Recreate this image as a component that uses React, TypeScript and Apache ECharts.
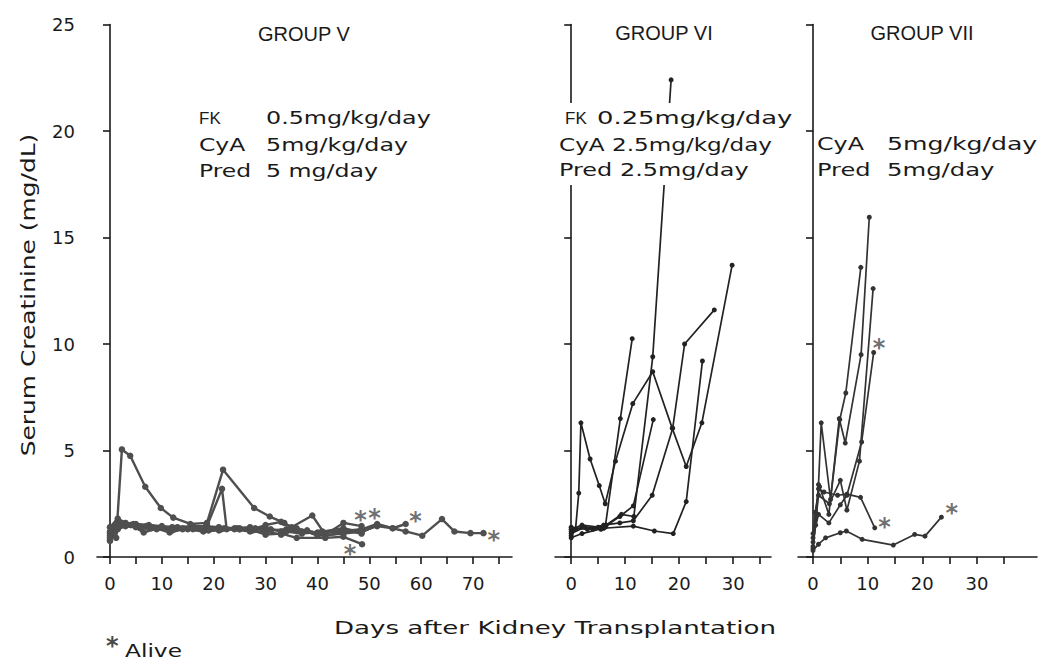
import { useEffect, useRef } from "react";
import * as echarts from "echarts";

// ---------- axis ticks ----------
const yRange = [0, 25];
const g5TickValues = [0, 5, 10, 15, 20, 25, 30, 35, 40, 45, 50, 55, 60, 65, 70, 75];
const g5LabelValues = [0, 10, 20, 30, 40, 50, 60, 70];
const g6TickValues = [0, 5, 10, 15, 20, 25, 30, 35];
const g6LabelValues = [0, 10, 20, 30];
const g7TickValues = [0, 5, 10, 15, 20, 25, 30, 35];
const g7LabelValues = [0, 10, 20, 30];

// ---------- GROUP V (day, serum creatinine) ----------
const g5p1 = [[0, 1.1], [1.2, 0.9], [2.3, 5.05], [3.9, 4.75], [6.8, 3.3], [9.8, 2.3], [12.2, 1.85], [15.5, 1.55], [18.7, 1.6], [21.8, 4.1], [27.8, 2.3], [30.8, 1.9], [33.6, 1.6], [35.5, 1.3], [38, 1.25], [41.5, 1.0], [45, 1.15], [48.5, 1.3]];
const g5p2 = [[0, 0.8], [1.5, 1.7], [4, 1.5], [8, 1.4], [12, 1.4], [16, 1.45], [18.7, 1.45], [21.6, 3.2], [22.5, 1.3], [25, 1.3], [28, 1.35], [31, 1.3], [34, 1.2], [37, 1.1], [41, 1.2], [45, 1.25], [48.5, 1.1]];
const g5p3 = [[0, 1.4], [1.5, 1.8], [3, 1.6], [5, 1.55], [7.5, 1.5], [10, 1.45], [13, 1.4], [16, 1.35], [19, 1.3], [21, 1.3], [24.5, 1.35], [27.5, 1.3], [30, 1.5], [33, 1.65], [35, 1.4], [39, 1.95], [41.5, 1.05], [45, 1.6], [48.5, 1.45]];
const g5p4 = [[0, 0.75], [1, 1.2], [2, 1.6], [4, 1.5], [6.5, 1.15], [9, 1.35], [11.5, 1.15], [14, 1.3], [17, 1.35], [19, 1.25], [21.5, 1.3], [25, 1.35], [27.5, 1.25], [30, 1.05], [33, 1.1], [36, 0.9], [41.5, 0.9], [45, 0.95], [48.6, 0.6]];
const g5p5 = [[0, 1.0], [1, 1.45], [2.5, 1.55], [5, 1.4], [8, 1.35], [11, 1.3], [14, 1.35], [18.5, 1.45], [21, 1.4], [24, 1.35], [27, 1.4], [30, 1.35], [33, 1.2], [36, 1.25], [40, 1.15], [45, 1.35], [48.5, 1.15], [51.5, 1.5]];
const g5p6 = [[0, 1.2], [2, 1.5], [4.5, 1.55], [7, 1.45], [10, 1.4], [13, 1.35], [16, 1.3], [19, 1.35], [22, 1.35], [25, 1.3], [28, 1.3], [31, 1.25], [34, 1.3], [37, 1.2], [40.5, 1.15], [44, 1.2], [48.5, 1.3], [51.5, 1.55], [54.5, 1.35], [57, 1.55]];
const g5p7 = [[0, 0.9], [1.5, 1.3], [3, 1.45], [6, 1.35], [9, 1.3], [12, 1.25], [15, 1.3], [18, 1.2], [21, 1.25], [24, 1.3], [27, 1.2], [30, 1.2], [33, 1.05], [36, 1.35], [40, 1.0], [45, 1.1], [48.5, 1.2], [51.5, 1.45], [54.5, 1.35], [57, 1.2], [60.2, 1.0], [64, 1.78], [66.4, 1.2], [69.5, 1.12], [72, 1.12]];
const g5Alive = [[48.3, 2.0], [51, 2.1], [58.9, 1.95], [46.3, 0.4], [74, 1.1]];

// ---------- GROUP VI ----------
const g6p1 = [[0, 1.0], [0.8, 1.3], [1.4, 3.0], [1.8, 6.3], [3.5, 4.6], [5.2, 3.35], [6.3, 2.5], [8.2, 4.5], [11.4, 7.2], [15.1, 8.7], [18.7, 6.05], [21.3, 4.25], [24.2, 6.3], [29.8, 13.7]];
const g6p2 = [[0, 1.2], [2, 1.4], [4, 1.3], [6.3, 1.4], [9.1, 6.5], [11.3, 10.25]];
const g6p3 = [[0, 1.3], [2, 1.5], [5, 1.4], [6.5, 1.5], [9.3, 2.0], [11.6, 1.9], [15.1, 9.4], [18.5, 22.4]];
const g6p4 = [[0, 1.1], [2.5, 1.4], [5.5, 1.3], [9, 1.9], [11.5, 2.4], [15.2, 6.45]];
const g6p5 = [[0, 1.4], [3, 1.3], [6, 1.5], [9, 1.6], [11.5, 1.7], [15, 2.9], [18.8, 6.05], [21, 10], [26.5, 11.6]];
const g6p6 = [[0, 0.9], [2, 1.1], [6, 1.35], [11.5, 1.45], [15.4, 1.22], [18.9, 1.1], [21.3, 2.6], [24.3, 9.2]];

// ---------- GROUP VII ----------
const g7p1 = [[0, 0.7], [0.5, 1.5], [1, 3.4], [1.5, 6.3], [3.2, 2.7], [4.9, 6.45], [6, 7.7], [8.75, 13.6]];
const g7p2 = [[0, 0.5], [0.4, 2.1], [1.2, 3.3], [2.9, 2.0], [4.8, 6.5], [5.9, 5.35], [8.8, 9.5], [10.3, 15.95]];
const g7p3 = [[0, 0.9], [1, 2.0], [2.9, 1.6], [5, 2.45], [6.2, 2.9], [8.9, 5.4], [11.1, 9.6]];
const g7p4 = [[0, 0.4], [1, 2.9], [3, 2.5], [5, 3.6], [6.2, 2.2], [8.5, 4.5], [11, 12.6]];
const g7p5 = [[0, 1.1], [1, 3.2], [2, 3.05], [4.5, 2.9], [6.2, 2.95], [8.7, 2.8], [11.3, 1.37]];
const g7p6 = [[0, 0.3], [1, 0.6], [2.3, 0.9], [5, 1.14], [6.1, 1.22], [9, 0.83], [14.7, 0.56], [18.6, 1.06], [20.5, 0.98], [23.5, 1.87]];
const g7Alive = [[12.1, 10.1], [13.1, 1.7], [25.4, 2.34]];

const INK = "#1a1a1a";
const SPACED = "DejaVu Sans";
const PLAIN = "Liberation Sans";

function xAxisCfg(gridIndex: number, min: number, max: number, ticks: number[], labels: number[]) {
  return {
    type: "value",
    gridIndex,
    min,
    max,
    axisLine: { show: true, onZero: false, lineStyle: { color: INK, width: 1.6 } },
    axisTick: { show: true, length: 7, inside: false, customValues: ticks, lineStyle: { color: INK, width: 1.6 } },
    axisLabel: { show: true, customValues: labels, fontFamily: SPACED, fontSize: 18, color: INK, margin: 17 },
    splitLine: { show: false },
  };
}

function yAxisCfg(gridIndex: number, showLabel: boolean) {
  return {
    type: "value",
    gridIndex,
    min: yRange[0],
    max: yRange[1],
    interval: 5,
    axisLine: { show: true, lineStyle: { color: INK, width: 1.6 } },
    axisTick: { show: true, length: 7, inside: false, lineStyle: { color: INK, width: 1.6 } },
    axisLabel: { show: showLabel, fontFamily: SPACED, fontSize: 18, color: INK, margin: 22 },
    splitLine: { show: false },
  };
}

function lineSeries(data: number[][], idx: number, color: string, width: number, size: number) {
  return {
    type: "line",
    xAxisIndex: idx,
    yAxisIndex: idx,
    data,
    symbol: "circle",
    symbolSize: size,
    showSymbol: true,
    lineStyle: { color, width },
    itemStyle: { color },
    emphasis: { disabled: true },
    z: 3,
  };
}

function aliveSeries(data: number[][], idx: number) {
  return {
    type: "scatter",
    xAxisIndex: idx,
    yAxisIndex: idx,
    data,
    symbol: "circle",
    symbolSize: 1,
    itemStyle: { color: "rgba(0,0,0,0)" },
    label: {
      show: true,
      formatter: "*",
      position: "inside",
      fontFamily: SPACED,
      fontWeight: "bold",
      fontSize: 24,
      color: "#4a4a4a",
      textBorderWidth: 0,
      textBorderColor: "transparent",
      offset: [0, 6],
    },
    emphasis: { disabled: true },
    z: 4,
  };
}

function txt(text: string, x: number, y: number, opts: any = {}) {
  return {
    type: "text",
    x,
    y,
    scaleX: opts.scaleX ?? 1,
    rotation: opts.rotation ?? 0,
    z: 100,
    style: {
      text,
      fontFamily: opts.font ?? SPACED,
      fontSize: opts.size ?? 17,
      fontWeight: opts.weight ?? "normal",
      fill: opts.fill ?? INK,
      align: opts.align ?? "left",
      verticalAlign: "middle",
      backgroundColor: opts.bg,
      padding: opts.bg ? [5, 0, 5, 0] : undefined,
      lineHeight: 20,
    },
  };
}

export default function App() {
  const ref = useRef<HTMLDivElement>(null);
  useEffect(() => {
    if (!ref.current) return;
    const chart = echarts.init(ref.current, null, { renderer: "svg" });
    const g5 = [g5p1, g5p2, g5p3, g5p4, g5p5, g5p6, g5p7];
    const g6 = [g6p1, g6p2, g6p3, g6p4, g6p5, g6p6];
    const g7 = [g7p1, g7p2, g7p3, g7p4, g7p5, g7p6];
    const option: any = {
      animation: false,
      backgroundColor: "#fff",
      grid: [
        { left: 97, top: 24.5, width: 415, height: 532.5 },
        { left: 555, top: 24.5, width: 216, height: 532.5 },
        { left: 798, top: 24.5, width: 239, height: 532.5 },
      ],
      xAxis: [
        xAxisCfg(0, -2.5, 77.5, g5TickValues, g5LabelValues),
        xAxisCfg(1, -3, 37, g6TickValues, g6LabelValues),
        xAxisCfg(2, -2.75, 41, g7TickValues, g7LabelValues),
      ],
      yAxis: [yAxisCfg(0, true), yAxisCfg(1, false), yAxisCfg(2, false)],
      series: [
        ...g5.map((d) => lineSeries(d, 0, "#4f4f4f", 2.4, 6.5)),
        aliveSeries(g5Alive, 0),
        ...g6.map((d) => lineSeries(d, 1, "#222", 1.7, 5)),
        ...g7.map((d) => lineSeries(d, 2, "#333", 1.7, 5)),
        aliveSeries(g7Alive, 2),
      ],
      graphic: [
        // group titles
        txt("GROUP V", 304, 34, { font: PLAIN, size: 20, align: "center" }),
        txt("GROUP VI", 664, 33, { font: PLAIN, size: 20, align: "center" }),
        txt("GROUP VII", 922, 33, { font: PLAIN, size: 20, align: "center" }),
        // group V regimen
        txt("FK", 199, 118, { font: PLAIN }),
        txt("0.5mg/kg/day", 266, 118, { scaleX: 1.4 }),
        txt("CyA", 199, 145, { scaleX: 1.38 }),
        txt("5mg/kg/day", 266, 145, { scaleX: 1.4 }),
        txt("Pred", 199, 171, { scaleX: 1.38 }),
        txt("5 mg/day", 266, 171, { scaleX: 1.39 }),
        // group VI regimen
        txt("FK", 565, 118, { font: PLAIN, bg: "#fff" }),
        txt("0.25mg/kg/day", 597, 118, { scaleX: 1.52, bg: "#fff" }),
        txt("CyA 2.5mg/kg/day", 559, 145, { scaleX: 1.36, bg: "#fff" }),
        txt("Pred 2.5mg/day", 559, 170, { scaleX: 1.41, bg: "#fff" }),
        // group VII regimen
        txt("CyA", 817, 144, { scaleX: 1.4 }),
        txt("5mg/kg/day", 887, 144, { scaleX: 1.48 }),
        txt("Pred", 817, 170, { scaleX: 1.42 }),
        txt("5mg/day", 887, 170, { scaleX: 1.43 }),
        // axis titles
        txt("Serum Creatinine (mg/dL)", 28, 295, { size: 19, scaleX: 1.31, rotation: Math.PI / 2, align: "center" }),
        txt("Days after Kidney Transplantation", 555, 628, { size: 18, scaleX: 1.45, align: "center" }),
        // legend note
        txt("*", 106, 646, { size: 24, weight: "bold", fill: "#4a4a4a" }),
        txt("Alive", 125, 651, { scaleX: 1.37 }),
      ],
    };
    chart.setOption(option);
    return () => chart.dispose();
  }, []);
  return (
    <div
      ref={ref}
      style={{ position: "fixed", left: 0, top: 0, width: 1050, height: 672, background: "#fff" }}
    />
  );
}
